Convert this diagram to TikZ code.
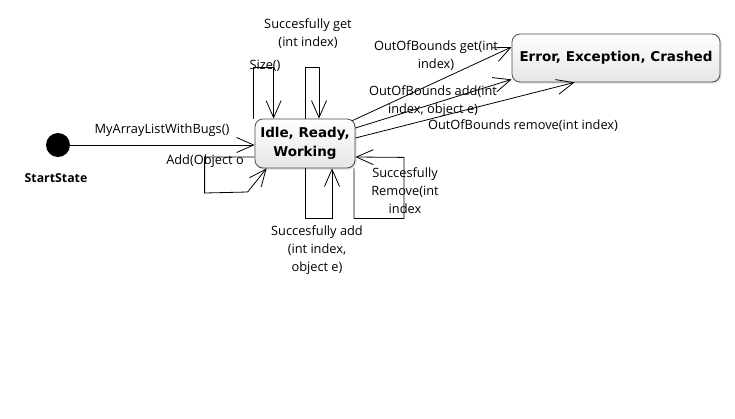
\documentclass[tikz,border=0pt]{standalone}
\usepackage{fontspec}
\setmainfont{Open Sans}
\newfontfamily\nodefont{DejaVu Sans}
\usetikzlibrary{arrows.meta,shadows}
\begin{document}
\begin{tikzpicture}[x=1pt,y=-1pt,
  lbl/.style={font=\fontsize{12.8}{17.8}\selectfont,align=center,inner sep=0pt},
  state/.style={draw=black!70,line width=0.8pt,rounded corners=8pt,
    top color=white,bottom color=black!10,
    drop shadow={opacity=0.25,shadow xshift=1.5pt,shadow yshift=-1.5pt},
    font=\nodefont\bfseries\fontsize{13.5}{19}\selectfont,align=center,inner sep=0pt},
  arr/.style={draw=black,line width=0.8pt,-{Straight Barb[length=17pt,width=15pt,line width=0.8pt]}}]
\useasboundingbox (0,0) rectangle (735,418);
\fill[white] (0,0) rectangle (735,418);
% nodes
\node[circle,fill=black,minimum size=24pt,inner sep=0pt] (start) at (58,145) {};
\node[font=\bfseries\fontsize{12.3}{14}\selectfont,inner sep=0pt] (startlbl) at (56,178) {StartState};
\node[state,minimum width=100pt,minimum height=49pt] (idle) at (305,143.5) {Idle, Ready,\\Working};
\node[state,minimum width=208pt,minimum height=48pt] (err) at (616,58) {Error, Exception, Crashed};
% connectors
\draw[arr] (start.east) -- (start.east -| idle.west);
\draw[arr] ([xshift=-1pt]idle.north west) -- ++(0,-51) -- ++(20,0) -- ([xshift=19pt]idle.north west);
\draw[arr] (idle.north) -- ++(0,-51) -- ++(14,0) -- ([xshift=14pt]idle.north);
\draw[arr] (idle.south) -- ++(0,50) -- ++(27,0) -- ([xshift=27pt]idle.south);
\draw[arr] ([xshift=49pt]idle.south) -- ++(0,50) -- ++(50,0) -- ++(0,-61) -- ([yshift=-13.5pt]idle.east);
\draw[arr] ([yshift=-13.5pt]idle.west) -- ++(-50,0) -- ++(0,36) -- ++(43,-1) -- ([xshift=12pt]idle.south west);
\draw[arr] ([xshift=-3pt,yshift=-2pt]idle.north east) -- ([yshift=11pt]err.west);
\draw[arr] ([yshift=15.5pt]idle.east) -- ([yshift=3pt]err.south west);
\draw[arr] ([yshift=5.5pt]idle.east) -- ([xshift=63pt]err.south west);
% labels
\node[lbl] (l1) at (162,130) {MyArrayListWithBugs()};
\node[lbl] (l2) at (205,161) {Add(Object o};
\node[lbl] (l3) at (265,66) {Size()};
\node[lbl] (l4) at (308,34) {Succesfully get\\(int index)};
\node[lbl] (l5) at (317,250) {Succesfully add\\(int index,\\object e)};
\node[lbl] (l6) at (405,190.5) {Succesfully\\Remove(int\\index};
\node[lbl] (l7) at (436,56) {OutOfBounds get(int\\index)};
\node[lbl] (l8) at (433,101) {OutOfBounds add(int\\index, object e)};
\node[lbl] (l9) at (523,126) {OutOfBounds remove(int index)};
\end{tikzpicture}
\end{document}
